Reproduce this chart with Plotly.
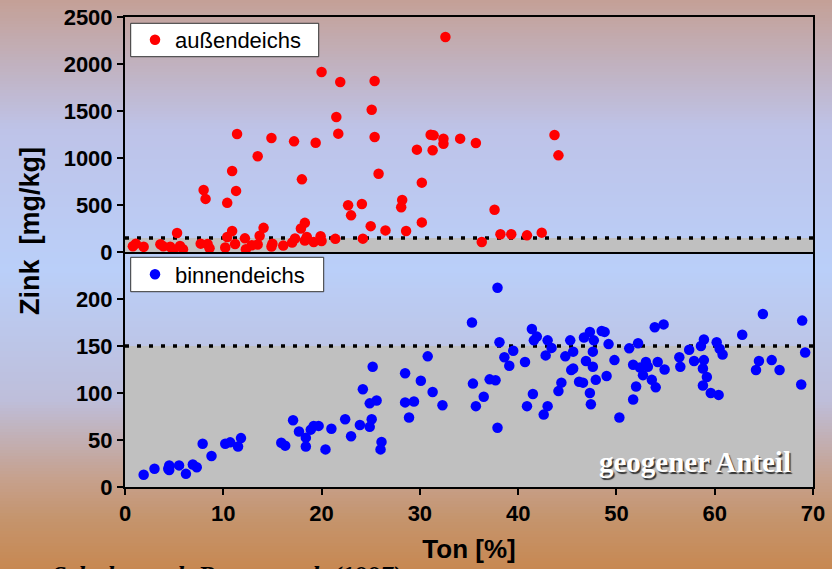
import plotly.graph_objects as go

# ---------------- data ----------------
red_x = [0.8, 1.1, 1.9, 3.6, 3.9, 4.6, 4.9, 5.3, 5.6, 5.9, 7.7, 8.0, 8.2, 8.4, 8.6,
         10.2, 10.4, 10.4, 10.9, 10.9, 11.2, 11.3, 11.4, 12.2, 12.3, 12.9,
         13.5, 13.5, 13.7, 14.1, 14.9, 14.9, 15.0, 16.1, 17.0, 17.2, 17.3,
         17.9, 18.0, 18.3, 18.3, 18.5, 19.2, 19.4, 20.0, 19.9, 20.0,
         21.4, 21.5, 21.7, 21.9, 22.7, 23.0, 24.1, 24.2,
         25.0, 25.1, 25.4, 25.4, 25.8, 26.5, 28.1, 28.2, 28.6,
         29.7, 30.2, 30.2, 31.1, 31.4, 31.3, 32.4, 32.4, 32.6,
         34.1, 35.7, 36.3, 37.6, 38.2, 39.3, 40.9, 42.4, 43.7, 44.1]
red_y = [62, 89, 55, 82, 60, 55, 25, 202, 65, 30, 89, 660, 565, 85, 40,
         47, 160, 523, 223, 862, 85, 650, 1255, 145, 30, 71,
         1018, 80, 172, 257, 1213, 58, 89, 68, 100, 1177, 143,
         250, 773, 310, 122, 160, 106, 1163, 1915, 167, 117,
         140, 1436, 1259, 1809, 497, 390, 510, 142,
         275, 1514, 1819, 1223, 833, 230, 476, 553, 223,
         1089, 738, 315, 1248, 1241, 1082, 1206, 1152, 2287,
         1206, 1160, 106, 449, 188, 188, 177, 206, 1245, 1028]

blue_x = [1.9, 3.0, 4.4, 4.5, 4.5, 5.5, 6.2, 6.9, 7.3, 7.9, 8.8, 10.2, 10.7, 11.5, 11.8,
          15.9, 16.3, 17.1, 17.7, 18.4, 18.4, 18.9, 19.2, 19.7, 20.4, 21.0,
          22.4, 23.0, 23.9, 24.2, 24.9, 25.6, 25.1, 24.9, 25.2, 26.1, 26.0,
          28.5, 28.5, 28.9, 29.4, 30.1, 30.8, 31.3, 32.3, 35.3, 35.4, 35.7,
          36.5, 37.1, 37.7, 37.9, 37.9, 38.1, 38.6, 39.1, 39.5, 40.7, 40.9,
          41.4, 41.5, 41.6, 41.9, 42.6, 42.8, 43.0, 43.0, 43.4, 44.1, 44.4,
          44.8, 45.3, 45.4, 45.6, 45.6, 46.2, 46.6, 46.7, 46.9, 47.3, 47.3,
          47.4, 47.6, 47.6, 47.7, 47.9, 48.5, 48.8, 49.0, 49.2, 49.8, 50.3,
          51.3, 51.7, 51.7, 52.0, 52.2, 52.4, 52.7, 53.0, 53.2, 53.6, 54.0,
          53.9, 54.2, 54.8, 54.9, 56.4, 56.5, 57.4, 57.9, 58.6, 58.9, 58.8,
          58.9, 59.2, 58.8, 59.6, 60.2, 60.4, 60.5, 60.8, 62.8, 64.2, 64.5,
          64.9, 65.8, 66.6, 68.8, 68.9, 69.2]
blue_y = [13, 19.5, 19.5, 23, 18, 23, 14, 24, 21, 46, 33, 46, 47.5, 43, 52,
          47, 44, 71, 59, 52.5, 43, 61, 65, 65, 40, 62,
          72, 54, 66, 104, 89, 92, 72, 64, 128, 48, 40,
          121, 90, 74, 91, 113, 139, 101, 87, 175, 110, 86,
          96, 114.5, 113.5, 63, 212, 154, 138, 129, 145, 133, 86,
          168, 99, 156, 160, 77, 140, 86, 156, 148, 102, 111,
          139, 156, 124.5, 126, 144, 112, 111, 159, 134, 165, 100,
          88, 144, 128, 156, 114, 166, 165, 118, 152, 135, 74,
          147.5, 93, 130, 107, 153, 127, 119, 133, 128, 114, 106,
          170, 133, 173, 125, 138, 128, 146, 134, 150, 157, 126,
          135, 117, 108, 100, 154, 98, 147, 141, 162, 124.5, 134,
          184, 135, 124.5, 109, 177, 143]

x_ticks = [0, 10, 20, 30, 40, 50, 60, 70]
top_ticks = [0, 500, 1000, 1500, 2000, 2500]
bottom_ticks = [0, 50, 100, 150, 200]
threshold = 150

# ---------------- style / geometry ----------------
W, H = 832, 569
L, R, T, B = 125, 19, 17, 82
PW, PH = W - L - R, H - T - B

SANS = "Liberation Sans, Arial, Helvetica, sans-serif"
SERIF = "Liberation Serif, Times New Roman, serif"

grad_stops = [(0, (196, 160, 150)), (130, (190, 195, 232)), (270, (186, 207, 249)),
              (400, (190, 190, 218)), (480, (198, 160, 140)), (520, (197, 148, 108)),
              (569, (199, 136, 82))]


def grad_color(py):
    for (y0, c0), (y1, c1) in zip(grad_stops[:-1], grad_stops[1:]):
        if y0 <= py <= y1:
            t = (py - y0) / (y1 - y0)
            return "rgb(%d,%d,%d)" % tuple(round(a + (b - a) * t) for a, b in zip(c0, c1))
    return "rgb(%d,%d,%d)" % grad_stops[-1][1]


def ppx(px):
    return (px - L) / PW


def ppy(py):
    return (H - B - py) / PH


shapes = []
step = 3
for py in range(0, H, step):
    shapes.append(dict(type="rect", xref="paper", yref="paper", layer="below",
                       x0=ppx(-5), x1=ppx(W + 5),
                       y0=ppy(py + step + 1), y1=ppy(py),
                       fillcolor=grad_color(py + step / 2), line=dict(width=0)))

# grey "geogen" band and dotted threshold line in both panels
for xr, yr in (("x", "y"), ("x2", "y2")):
    shapes.append(dict(type="rect", xref=xr, yref=yr, layer="below",
                       x0=0, x1=70, y0=0, y1=threshold,
                       fillcolor="#c0c0c0", line=dict(width=0)))
    shapes.append(dict(type="line", xref=xr, yref=yr, layer="below",
                       x0=0, x1=70, y0=threshold, y1=threshold,
                       line=dict(color="black", width=3.5, dash="4px,8px")))

# legend frames (the legends themselves are transparent and sit on them)
legend_frames = [(130.7, 318.7, 23.3, 56.7), (130.7, 323.7, 257.3, 291.7)]
for x0, x1, y0, y1 in legend_frames:
    shapes.append(dict(type="rect", xref="paper", yref="paper", layer="above",
                       x0=ppx(x0), x1=ppx(x1), y0=ppy(y1), y1=ppy(y0),
                       fillcolor="white", line=dict(color="#333333", width=1)))

fig = go.Figure()
fig.add_trace(go.Scatter(x=red_x, y=red_y, mode="markers", name="außendeichs",
                         xaxis="x2", yaxis="y2", legend="legend",
                         marker=dict(color="#ff0000", size=10.5, line=dict(width=0))))
fig.add_trace(go.Scatter(x=blue_x, y=blue_y, mode="markers", name="binnendeichs",
                         xaxis="x", yaxis="y", legend="legend2",
                         marker=dict(color="#0000ff", size=10.5, line=dict(width=0))))

tickfont = dict(family=SANS, size=22, color="black", weight="bold")
axis_common = dict(showline=True, linecolor="black", linewidth=2, mirror=True,
                   showgrid=False, zeroline=False, automargin=False)

legend_common = dict(bgcolor="rgba(0,0,0,0)", borderwidth=0,
                     font=dict(family=SANS, size=22, color="black"),
                     xanchor="left", yanchor="middle", x=ppx(135),
                     itemsizing="trace")

fig.update_layout(
    width=W, height=H,
    margin=dict(l=L, r=R, t=T, b=B, pad=0, autoexpand=False),
    paper_bgcolor="rgba(0,0,0,0)", plot_bgcolor="rgba(0,0,0,0)",
    showlegend=True,
    xaxis=dict(domain=[0, 1], anchor="y", range=[0, 70], tickvals=x_ticks,
               ticks="outside", ticklen=6, tickwidth=2, tickcolor="black",
               tickfont=tickfont,
               title=dict(text="Ton [%]", font=dict(family=SANS, size=26, color="black", weight="bold"),
                          standoff=14),
               **axis_common),
    xaxis2=dict(domain=[0, 1], anchor="y2", range=[0, 70], matches="x",
                showticklabels=False, ticks="", **axis_common),
    yaxis=dict(domain=[0, 0.5], anchor="x", range=[0, 250], tickvals=bottom_ticks,
               ticks="outside", ticklen=6, tickwidth=2, tickcolor="black",
               tickfont=tickfont, **axis_common),
    yaxis2=dict(domain=[0.5, 1], anchor="x2", range=[0, 2500], tickvals=top_ticks,
                ticks="outside", ticklen=6, tickwidth=2, tickcolor="black",
                tickfont=tickfont, **axis_common),
    legend=dict(y=ppy(40), **legend_common),
    legend2=dict(y=ppy(274.5), **legend_common),
    shapes=shapes,
    annotations=[
        dict(text="Zink  [mg/kg]", xref="paper", yref="paper",
             x=ppx(30), y=ppy(231), textangle=-90,
             xanchor="center", yanchor="middle", showarrow=False,
             font=dict(family=SANS, size=27, color="black", weight="bold")),
        dict(text="geogener Anteil", xref="x", yref="y", x=58, y=27,
             xanchor="center", yanchor="middle", showarrow=False,
             font=dict(family=SERIF, size=29, color="white", weight="bold",
                       shadow="1.5px 1.5px 1px #333333")),
        dict(text="Schultz nach Braun et al. (1997)", xref="paper", yref="paper",
             x=ppx(50), y=ppy(559), xanchor="left", yanchor="top",
             showarrow=False,
             font=dict(family=SERIF, size=26, color="black", weight="bold", style="italic")),
    ],
)

fig.write_html("out.html")
